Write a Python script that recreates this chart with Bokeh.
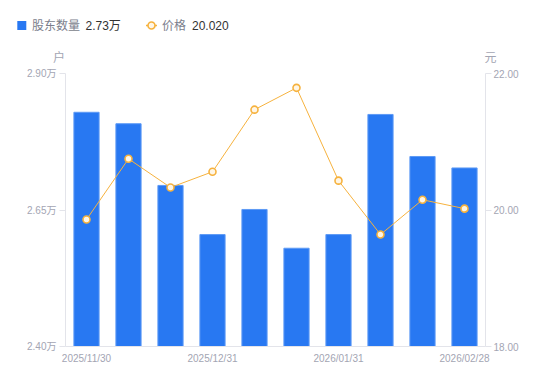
from bokeh.plotting import figure
from bokeh.layouts import column, row
from bokeh.models import (Range1d, LinearAxis, FixedTicker, PrintfTickFormatter,
                          ColumnDataSource)
from bokeh.core.properties import value
from bokeh.embed import file_html
from bokeh.resources import INLINE

dates = ["2025/11/30", "2025/12/10", "2025/12/20", "2025/12/31", "2026/01/10",
         "2026/01/20", "2026/01/31", "2026/02/10", "2026/02/20", "2026/02/28"]
holders = [2.829, 2.808, 2.695, 2.605, 2.651, 2.580, 2.605, 2.825, 2.748, 2.727]  # 万户
price = [19.86, 20.75, 20.33, 20.56, 21.47, 21.79, 20.43, 19.64, 20.15, 20.02]
shown_labels = {0: "2025/11/30", 3: "2025/12/31", 6: "2026/01/31", 9: "2026/02/28"}
holder_ticks = [2.40, 2.65, 2.90]
price_ticks = [18.0, 20.0, 22.0]
series_names = ["股东数量", "价格"]
legend_values = ["2.73万", "20.020"]
units = ["户", "元"]

FONT = "Liberation Sans, Noto Sans CJK SC"
GRAY = "#a3a5b3"
LEGEND_GRAY = "#7b7e8c"
DARK = "#333333"
AXIS = "#e3e4ea"
BLUE = "#2878f2"
ORANGE = "#f6b23e"

# ---------- header strip (legend + axis units), pixel-like coordinates ----------
W, HEAD = 550, 65
head = figure(width=W, height=HEAD, output_backend="svg", toolbar_location=None,
              x_range=Range1d(0, W), y_range=Range1d(HEAD, 0),
              x_axis_type=None, y_axis_type=None, min_border=0)
head.outline_line_color = None
head.xgrid.visible = False
head.ygrid.visible = False

head.rect(x=[21.3], y=[25], width=9, height=9, fill_color=BLUE, line_color=None)
head.text(x=[31.5], y=[25], text=[series_names[0]], text_font=value(FONT),
          text_font_size="12px", text_color=LEGEND_GRAY, text_baseline="middle",
          text_align="left")
head.text(x=[85], y=[25], text=[legend_values[0]], text_font=value(FONT),
          text_font_size="12px", text_color=DARK, text_baseline="middle",
          text_align="left")
head.segment(x0=[145.5], y0=[25], x1=[156.5], y1=[25], line_color=ORANGE, line_width=1.5)
head.scatter(x=[151], y=[25], size=7, fill_color="#fff6e6", line_color=ORANGE,
             line_width=1.6)
head.text(x=[161.5], y=[25], text=[series_names[1]], text_font=value(FONT),
          text_font_size="12px", text_color=LEGEND_GRAY, text_baseline="middle",
          text_align="left")
head.text(x=[191.5], y=[25], text=[legend_values[1]], text_font=value(FONT),
          text_font_size="12px", text_color=DARK, text_baseline="middle",
          text_align="left")
head.text(x=[58.5, 490], y=[57, 57], text=units, text_font=value(FONT),
          text_font_size="12px", text_color=GRAY, text_baseline="middle",
          text_align="center")

# ---------- main chart ----------
idx = list(range(len(dates)))
src = ColumnDataSource(dict(x=idx, h=holders, p=price, d=dates))

p = figure(frame_width=420, frame_height=273, output_backend="svg",
           toolbar_location=None, x_range=Range1d(-0.5, len(dates) - 0.5),
           y_range=Range1d(holder_ticks[0], holder_ticks[-1]),
           min_border_left=65, min_border_right=65, min_border_top=8,
           min_border_bottom=30)
p.extra_y_ranges = {"price": Range1d(price_ticks[0], price_ticks[-1])}
p.outline_line_color = None
p.xgrid.visible = False
p.ygrid.visible = False

p.vbar(x="x", top="h", bottom=holder_ticks[0], width=0.6, source=src,
       fill_color=BLUE, line_color="#5e9af5", line_width=1)
p.line(x="x", y="p", source=src, y_range_name="price",
       line_color=ORANGE, line_width=1)
p.scatter(x="x", y="p", source=src, y_range_name="price", size=7,
          fill_color="#fff6e6", line_color=ORANGE, line_width=1.6)

xa = p.xaxis[0]
xa.ticker = FixedTicker(ticks=list(shown_labels.keys()))
xa.major_label_overrides = shown_labels
xa.major_tick_out = 0
xa.major_tick_in = 0
xa.minor_tick_out = 0
xa.minor_tick_in = 0
xa.axis_line_color = AXIS
xa.major_label_text_color = GRAY
xa.major_label_text_font = FONT
xa.major_label_text_font_size = "10px"
xa.major_label_standoff = 6

ya = p.yaxis[0]
ya.ticker = FixedTicker(ticks=holder_ticks)
ya.formatter = PrintfTickFormatter(format="%.2f万")
ya.major_tick_out = 6
ya.major_tick_in = 0
ya.minor_tick_out = 0
ya.minor_tick_in = 0
ya.axis_line_color = AXIS
ya.major_tick_line_color = AXIS
ya.major_label_text_color = GRAY
ya.major_label_text_font = FONT
ya.major_label_text_font_size = "10px"
ya.major_label_standoff = 3

ra = LinearAxis(y_range_name="price", ticker=FixedTicker(ticks=price_ticks),
                formatter=PrintfTickFormatter(format="%.2f"))
ra.major_tick_out = 6
ra.major_tick_in = 0
ra.minor_tick_out = 0
ra.minor_tick_in = 0
ra.axis_line_color = AXIS
ra.major_tick_line_color = AXIS
ra.major_label_text_color = GRAY
ra.major_label_text_font = FONT
ra.major_label_text_font_size = "10px"
ra.major_label_standoff = 2
p.add_layout(ra, "right")

layout = column(row(head, spacing=0), p, spacing=0)
open("out.html", "w").write(file_html(layout, INLINE))
